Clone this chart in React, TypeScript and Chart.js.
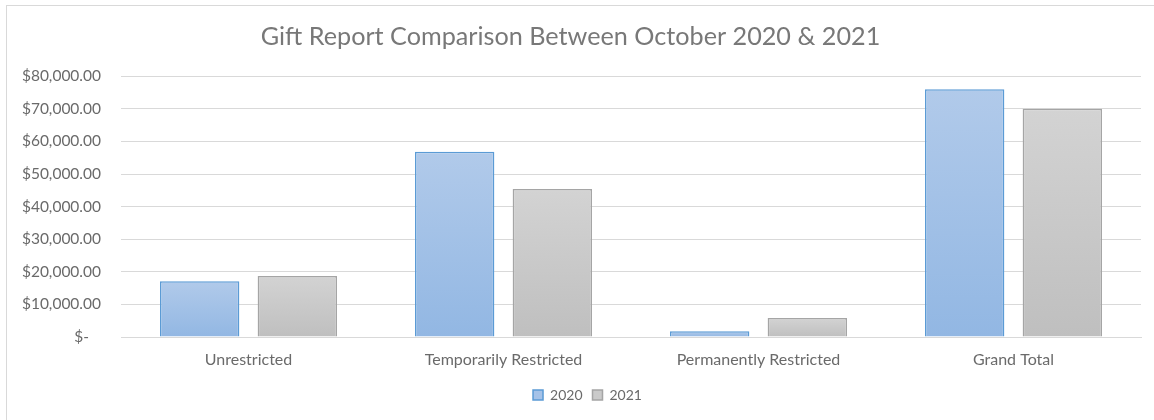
import React, { useEffect, useRef } from "react";
import { Chart, registerables } from "chart.js";

Chart.register(...registerables);

const categories = ["Unrestricted", "Temporarily Restricted", "Permanently Restricted", "Grand Total"];
const values2020 = [17100, 56800, 1800, 76000];
const values2021 = [18700, 45400, 5800, 70000];
const seriesLabels = ["2020", "2021"];
const yTicks = [0, 10000, 20000, 30000, 40000, 50000, 60000, 70000, 80000];

const FONT = "Lato, 'Noto Sans', sans-serif";
const TEXT = "#6a6a6a";
const TITLE = "#787878";

function gradientFill(top: string, bottom: string, flat: string) {
  return (ctx: any) => {
    const chart = ctx.chart;
    if (ctx.type !== "data" || !chart.chartArea) return flat;
    const ys = chart.scales.y;
    const v = ctx.raw as number;
    const yTop = ys.getPixelForValue(v);
    const yBase = ys.getPixelForValue(0);
    if (!isFinite(yTop) || !isFinite(yBase) || yTop === yBase) return flat;
    const g = chart.ctx.createLinearGradient(0, yTop, 0, yBase);
    g.addColorStop(0, top);
    g.addColorStop(1, bottom);
    return g;
  };
}

function fmt(v: number) {
  if (v === 0) return "$-   ";
  return "$" + v.toLocaleString("en-US", { minimumFractionDigits: 2, maximumFractionDigits: 2 });
}

const legendShift = {
  id: "legendShift",
  afterLayout(chart: any) {
    const lg = chart.legend;
    if (lg) {
      lg.left += 17;
      lg.right += 17;
    }
  },
};

export default function App() {
  const ref = useRef<HTMLCanvasElement>(null);
  useEffect(() => {
    const canvas = ref.current!;
    const chart = new Chart(canvas, {
      type: "bar",
      plugins: [legendShift],
      data: {
        labels: categories,
        datasets: [
          {
            label: seriesLabels[0],
            data: values2020,
            backgroundColor: gradientFill("#b1caea", "#92b7e3", "#a5c2e8"),
            borderColor: "#5b9bd5",
            borderWidth: 1.5,
            categoryPercentage: 0.766,
            barPercentage: 0.813,
          },
          {
            label: seriesLabels[1],
            data: values2021,
            backgroundColor: gradientFill("#d3d3d3", "#bfbfbf", "#cacaca"),
            borderColor: "#a5a5a5",
            borderWidth: 1.5,
            categoryPercentage: 0.766,
            barPercentage: 0.813,
          },
        ],
      },
      options: {
        responsive: false,
        animation: false,
        layout: { padding: { left: 0, right: 13, top: 0, bottom: 8 } },
        plugins: {
          tooltip: { enabled: false },
          title: {
            display: true,
            text: "Gift Report Comparison Between October 2020 & 2021",
            color: TITLE,
            font: { family: FONT, size: 25.2, weight: "normal" },
            padding: { top: 22, bottom: 24 },
          },
          legend: {
            position: "bottom",
            labels: {
              color: TEXT,
              font: { family: FONT, size: 14 },
              boxWidth: 10,
              boxHeight: 10,
              padding: 10,
              generateLabels: () => [
                { text: seriesLabels[0], fillStyle: "#a5c2e8", strokeStyle: "#5b9bd5", lineWidth: 1.5, fontColor: TEXT, datasetIndex: 0, hidden: false },
                { text: seriesLabels[1], fillStyle: "#cacaca", strokeStyle: "#a5a5a5", lineWidth: 1.5, fontColor: TEXT, datasetIndex: 1, hidden: false },
              ] as any,
            },
          },
        },
        scales: {
          x: {
            grid: { display: false },
            border: { color: "#d9d9d9", width: 1 },
            ticks: { color: TEXT, font: { family: FONT, size: 16 }, padding: 5 },
            afterFit: (s: any) => { s.height = 41; },
          },
          y: {
            min: 0,
            max: 80000,
            grid: { color: "#d9d9d9", drawTicks: false, lineWidth: 1 },
            border: { display: false },
            afterBuildTicks: (s: any) => { s.ticks = yTicks.map((v) => ({ value: v })); },
            ticks: {
              color: TEXT,
              font: { family: FONT, size: 15.5 },
              padding: 20,
              callback: (v: any) => fmt(Number(v)),
            },
            afterFit: (s: any) => { s.width = 121; },
          },
        },
      },
    });
    return () => chart.destroy();
  }, []);
  return (
    <div style={{ position: "fixed", left: 0, top: 0, width: 1154, height: 420, background: "#fff", overflow: "hidden" }}>
      <canvas ref={ref} width={1154} height={420} style={{ display: "block" }} />
      <div style={{ position: "absolute", left: 6, top: 5, width: 1160, height: 430, borderLeft: "1px solid #d9d9d9", borderTop: "1px solid #d9d9d9", pointerEvents: "none" }} />
    </div>
  );
}
